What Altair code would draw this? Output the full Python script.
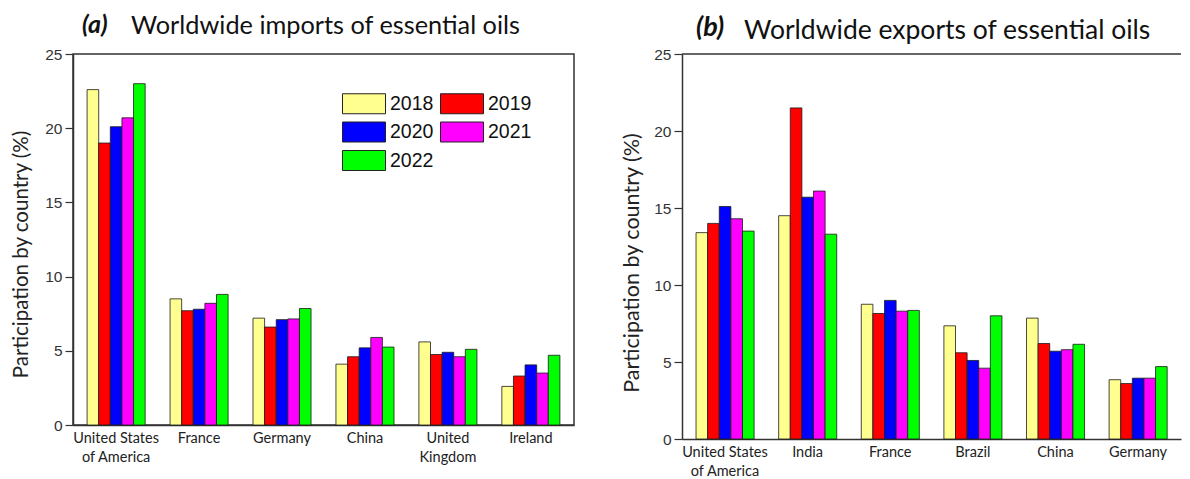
import altair as alt
import pandas as pd

years = ["2018", "2019", "2020", "2021", "2022"]
colors = ["#FFFF8F", "#FF0000", "#0000FF", "#FF00FF", "#00FF00"]

imp_countries = ["United States of America", "France", "Germany", "China", "United Kingdom", "Ireland"]
imp_2018 = [22.6, 8.5, 7.2, 4.1, 5.6, 2.6]
imp_2019 = [19.0, 7.7, 6.6, 4.6, 4.75, 3.3]
imp_2020 = [20.1, 7.8, 7.1, 5.2, 4.9, 4.05]
imp_2021 = [20.7, 8.2, 7.15, 5.9, 4.6, 3.5]
imp_2022 = [23.0, 8.8, 7.85, 5.25, 5.1, 4.7]

exp_countries = ["United States of America", "India", "France", "Brazil", "China", "Germany"]
exp_2018 = [13.4, 14.5, 8.75, 7.35, 7.85, 3.85]
exp_2019 = [14.0, 21.5, 8.15, 5.6, 6.2, 3.6]
exp_2020 = [15.1, 15.7, 9.0, 5.1, 5.7, 3.95]
exp_2021 = [14.3, 16.1, 8.3, 4.6, 5.8, 3.95]
exp_2022 = [13.5, 13.3, 8.35, 8.0, 6.15, 4.7]

y_ticks = [0, 5, 10, 15, 20, 25]
two_line = {"United States of America": ["United States", "of America"],
            "United Kingdom": ["United", "Kingdom"]}

label_expr = ""
for k, v in two_line.items():
    label_expr += f"datum.label == '{k}' ? ['{v[0]}', '{v[1]}'] : "
label_expr += "datum.label"


def long_df(countries, series):
    rows = []
    for yr, vals in zip(years, series):
        for c, v in zip(countries, vals):
            rows.append({"country": c, "year": yr, "value": v})
    return pd.DataFrame(rows)


def panel(countries, series, letter, title, w, h, leg, let, tit, ytitle_fs, ytitle_pad,
          ytitle_shift, full_frame):
    df = long_df(countries, series)
    sym_w, sym_h = leg["sym"]
    hw = sym_w / sym_h
    bars = alt.Chart(df).mark_bar(stroke="#1a1a1a", strokeWidth=0.8).encode(
        x=alt.X("country:N", sort=countries,
                scale=alt.Scale(paddingInner=0.3, paddingOuter=0.17),
                axis=alt.Axis(title=None, labelAngle=0, ticks=False, labelExpr=label_expr,
                              labelFont="Lato", labelFontSize=14.5, labelColor="#222",
                              labelPadding=6, labelLineHeight=19,
                              domainColor="#333", domainWidth=1.5)),
        xOffset=alt.XOffset("year:N", sort=years),
        y=alt.Y("value:Q", scale=alt.Scale(domain=[0, 25], nice=False),
                axis=alt.Axis(title="Participation by country (%)", values=y_ticks,
                              grid=False, tickSize=8, tickColor="#333", tickWidth=1.2,
                              domainColor="#333", domainWidth=1.5,
                              labelFont="Liberation Sans", labelFontSize=15.5,
                              labelColor="#333", labelPadding=3,
                              titleFont="Lato", titleFontSize=ytitle_fs,
                              titleFontWeight="normal", titleColor="#222",
                              titlePadding=ytitle_pad, titleY=h / 2 + ytitle_shift)),
        color=alt.Color("year:N", scale=alt.Scale(domain=years, range=colors),
                        legend=alt.Legend(orient="none", legendX=leg["x"] + sym_w / 2 - sym_h / 2,
                                          legendY=leg["y"],
                                          direction="horizontal",
                                          columns=2, title=None,
                                          symbolType=f"M-{hw},-1H{hw}V1H-{hw}Z",
                                          symbolSize=sym_h * sym_h,
                                          symbolStrokeColor="#222", symbolStrokeWidth=1,
                                          symbolOpacity=1,
                                          labelFont="Liberation Sans",
                                          labelFontSize=leg["fs"], labelColor="#111",
                                          labelOffset=sym_w / 2 - sym_h / 2 + 4,
                                          columnPadding=leg["colpad"],
                                          rowPadding=leg["rowpad"])),
    )
    lab = alt.Chart(pd.DataFrame({"t": [letter]})).mark_text(
        font="Lato", fontStyle="italic", fontWeight="bold", fontSize=let[2],
        align="left", baseline="alphabetic", color="#111"
    ).encode(x=alt.value(let[0]), y=alt.value(let[1]), text="t:N")
    tt = alt.Chart(pd.DataFrame({"t": [title]})).mark_text(
        font="Lato", fontSize=tit[2], align="left", baseline="alphabetic", color="#111"
    ).encode(x=alt.value(tit[0]), y=alt.value(tit[1]), text="t:N")
    layers = [bars, lab, tt]
    if full_frame:
        view = alt.ViewConfig(stroke="#333", strokeWidth=1.5)
    else:
        view = alt.ViewConfig(stroke="transparent", strokeWidth=0)
        top_line = alt.Chart(pd.DataFrame({"t": [0]})).mark_rule(
            color="#333", strokeWidth=1.5
        ).encode(x=alt.value(0), x2=alt.value(w), y=alt.value(0))
        layers.append(top_line)
    return alt.layer(*layers).properties(width=w, height=h, view=view)


pa = panel(imp_countries, [imp_2018, imp_2019, imp_2020, imp_2021, imp_2022],
           "(a)", "Worldwide imports of essential oils", 501, 371,
           {"x": 269, "y": 39, "sym": (43, 20), "fs": 19.5, "colpad": 5, "rowpad": 3.5},
           (9, -21, 25), (58, -20, 25.3), 20.5, 13, 14.5, True)
pb = panel(exp_countries, [exp_2018, exp_2019, exp_2020, exp_2021, exp_2022],
           "(b)", "Worldwide exports of essential oils", 499, 385,
           {"x": 281, "y": 40, "sym": (44, 21), "fs": 20, "colpad": 8, "rowpad": 4.5},
           (14, -18, 27), (62, -15, 26.5), 21.5, 10, 16, False)

chart = alt.hconcat(pa, pb, spacing=108, bounds="flush").properties(
    padding={"left": 3, "top": 4, "right": 0, "bottom": 0},
    background="white")

chart.save("out.html", embed_options={"renderer": "svg", "actions": False})
